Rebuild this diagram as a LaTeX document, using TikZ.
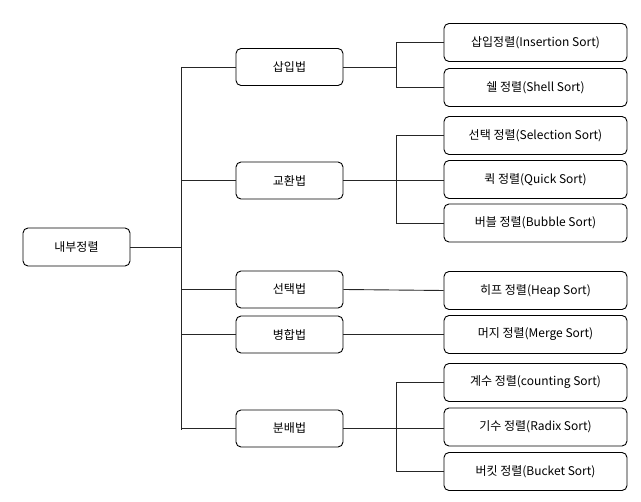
\documentclass[tikz,border=0pt]{standalone}
\usepackage{fontspec}
\setmainfont{Noto Sans CJK KR}
\usepackage{tikz}
\tikzstyle{method} = [rectangle, rounded corners=5pt, text centered, draw=black, line width=0.9pt, minimum width=107pt, minimum height=37pt, inner sep=0pt, font=\fontsize{12pt}{14pt}\selectfont]
\tikzstyle{sort} = [rectangle, rounded corners=5pt, text centered, draw=black, line width=0.9pt, minimum width=183pt, minimum height=38pt, inner sep=0pt, font=\fontsize{12pt}{14pt}\selectfont]
\tikzstyle{link} = [line width=0.9pt, black!85]

\begin{document}
\begin{tikzpicture}[x=1pt, y=-1pt]

    \useasboundingbox (0,0) rectangle (641,502);

    \node (root) [method, minimum height=38pt] at (76.5, 247) {내부정렬};

    \node (insert) [method] at (289.5, 67) {삽입법};
    \node (exchange) [method] at (289.5, 180.5) {교환법};
    \node (select) [method] at (289.5, 289.5) {선택법};
    \node (merge) [method] at (289.5, 334.5) {병합법};
    \node (distrib) [method] at (289.5, 428.5) {분배법};

    \node (insertion) [sort] at (535.5, 42.5) {삽입정렬(Insertion Sort)};
    \node (shell) [sort] at (535.5, 87.5) {쉘 정렬(Shell Sort)};
    \node (selection) [sort] at (535.5, 135.5) {선택 정렬(Selection Sort)};
    \node (quick) [sort] at (535.5, 179.5) {퀵 정렬(Quick Sort)};
    \node (bubble) [sort] at (535.5, 223) {버블 정렬(Bubble Sort)};
    \node (heap) [sort] at (535.5, 290.5) {히프 정렬(Heap Sort)};
    \node (mergesort) [sort] at (535.5, 334.5) {머지 정렬(Merge Sort)};
    \node (counting) [sort] at (535.5, 382.5) {계수 정렬(counting Sort)};
    \node (radix) [sort] at (535.5, 427) {기수 정렬(Radix Sort)};
    \node (bucket) [sort] at (535.5, 471.5) {버킷 정렬(Bucket Sort)};

    \coordinate (bustop) at (181.5, 67);
    \coordinate (busbot) at (181.5, 430);
    \coordinate (fork) at (396, 0);

    \draw [link] (bustop) -- (busbot);
    \draw [link] (root.east) -- (root.east -| bustop);
    \foreach \m in {insert, exchange, select, merge, distrib}
        \draw [link] (\m.west) -- (\m.west -| bustop);

    \draw [link] (insert.east) -- (insert.east -| fork);
    \draw [link] (insertion.west) -- (insertion.west -| fork) |- (shell.west);

    \draw [link] (exchange.east) -- (exchange.east -| quick.west);
    \draw [link] (selection.west) -- (selection.west -| fork) |- (bubble.west);

    \draw [link] (select.east) -- (heap.west);
    \draw [link] (merge.east) -- (mergesort.west);

    \draw [link] (distrib.east) -- (distrib.east -| radix.west);
    \draw [link] (counting.west) -- (counting.west -| fork) |- (bucket.west);

\end{tikzpicture}
\end{document}
